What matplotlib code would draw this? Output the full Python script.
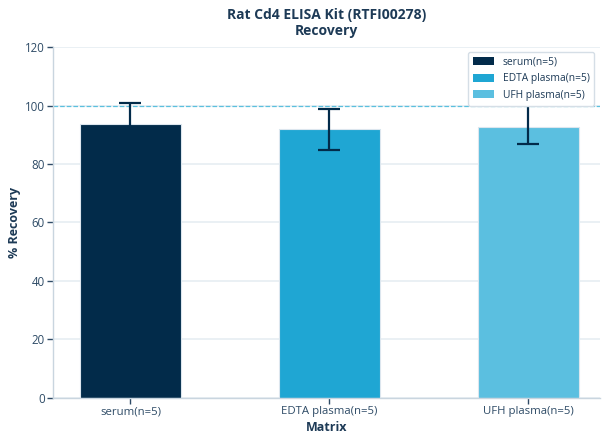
import matplotlib
matplotlib.use("Agg")
import matplotlib.pyplot as plt
from matplotlib.patches import Patch

# Data
matrices = ["serum(n=5)", "EDTA plasma(n=5)", "UFH plasma(n=5)"]
recovery = [93.6, 91.8, 92.6]
err_low = [7.4, 7.0, 5.8]
err_high = [7.4, 7.0, 11.0]
colors = ["#022b4a", "#1fa6d3", "#5bbfe0"]

text_color = "#1d3a56"
tick_color = "#2e4b66"

plt.rcParams["font.family"] = ["Open Sans", "Noto Sans", "DejaVu Sans"]

fig = plt.figure(figsize=(6.08, 4.44), dpi=100)
ax = fig.add_axes([0.087, 0.104, 0.900, 0.790])

x = list(range(len(matrices)))
ax.bar(x, recovery, width=0.51, color=colors, edgecolor="#dce6ee",
       linewidth=0.8, zorder=2)
ax.errorbar(x, recovery, yerr=[err_low, err_high], fmt="none",
            ecolor="#022b4a", elinewidth=1.6, capsize=8, capthick=1.6,
            zorder=3)

# reference line at 100 %
ax.axhline(100, color="#5bc0de", linestyle="--", linewidth=0.9, zorder=1)

ax.set_xlim(-0.39, 2.36)
ax.set_ylim(0, 120)
ax.set_yticks(range(0, 121, 20))
ax.set_xticks(x)
ax.set_xticklabels(matrices)

ax.yaxis.grid(True, color="#e6edf2", linewidth=1.2, zorder=0)
ax.set_axisbelow(True)

for side in ["top", "right"]:
    ax.spines[side].set_visible(False)
for side in ["left", "bottom"]:
    ax.spines[side].set_color("#c9d5df")
    ax.spines[side].set_linewidth(1.0)

ax.tick_params(axis="both", colors="#2e4b66", labelsize=8.3, length=4,
               width=1.0, labelcolor=tick_color, pad=2)
ax.tick_params(axis="x", labelsize=8.2)

ax.set_xlabel("Matrix", fontsize=9, fontweight="bold", color=text_color,
              labelpad=3)
ax.set_ylabel("% Recovery", fontsize=9, fontweight="bold", color=text_color,
              labelpad=3)
ax.set_title("Rat Cd4 ELISA Kit (RTFI00278)\nRecovery", fontsize=10,
             fontweight="bold", color=text_color, linespacing=1.1, pad=9)

handles = [Patch(facecolor=c, edgecolor="none") for c in colors]
leg = ax.legend(handles, matrices, loc="upper right", fontsize=7.4,
                frameon=True, fancybox=True, framealpha=1.0,
                edgecolor="#d5dee6", handlelength=2.1, handleheight=0.85,
                borderaxespad=0.0, labelspacing=0.55, borderpad=0.45,
                bbox_to_anchor=(0.989, 0.986))
leg.set_zorder(5)
for t in leg.get_texts():
    t.set_color(text_color)

fig.savefig("out.png", dpi=100)
